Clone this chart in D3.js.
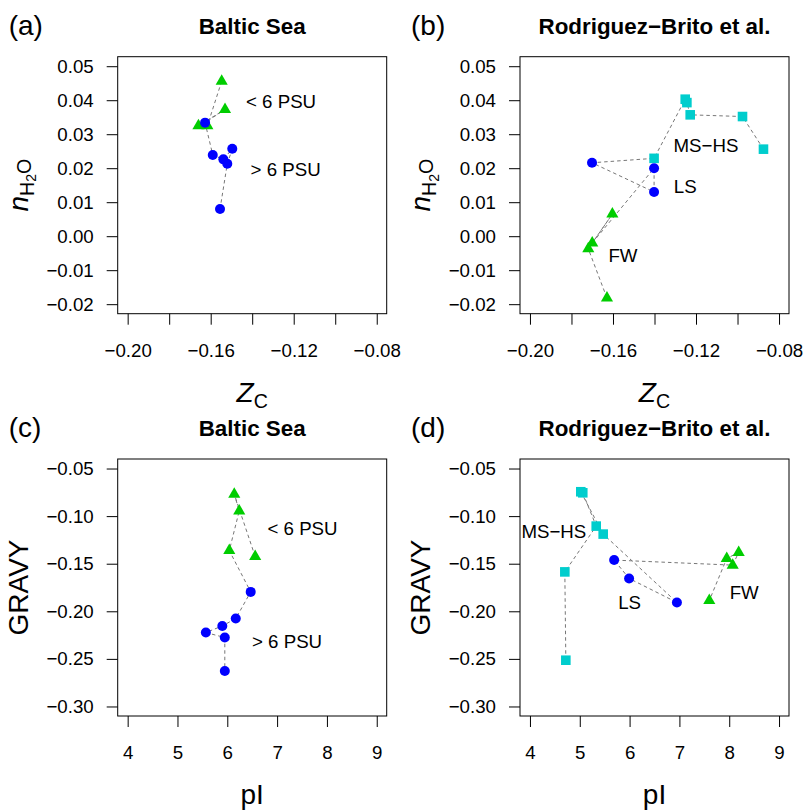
<!DOCTYPE html>
<html><head><meta charset="utf-8">
<script src="https://cdn.jsdelivr.net/npm/d3@7"></script>
<style>
body{margin:0;background:#fff}
svg{display:block}
text{font-family:"Liberation Sans",Arial,Helvetica,sans-serif;fill:#000}
</style>
</head><body>
<svg id="chart" width="803" height="812"></svg>
<script>
// ---------- DATA ----------
// Baltic Sea samples (in plotting / connecting order)
const balticGroup = ["lo","lo","lo","lo","hi","hi","hi","hi","hi","hi"];
const balticZC    = [-0.1547,-0.1616,-0.1659,-0.1531,-0.1627,-0.1590,-0.1539,-0.1496,-0.1520,-0.1555];
const balticNH2O  = [0.0456,0.0325,0.0325,0.0373,0.0334,0.0239,0.0226,0.0257,0.0213,0.0080];
const balticPI    = [6.56,6.14,6.24,6.04,6.47,6.17,5.90,5.57,5.95,5.95];
const balticGRAVY = [-0.1425,-0.0770,-0.0945,-0.1362,-0.1796,-0.2076,-0.2154,-0.2223,-0.2276,-0.2627];

// Rodriguez-Brito et al. samples (in plotting / connecting order)
const rbGroup = ["HS","HS","HS","HS","HS","HS","LS","LS","LS","FW","FW","FW","FW"];
const rbZC    = [-0.0875,-0.0976,-0.1228,-0.1244,-0.1252,-0.1402,-0.1701,-0.1402,-0.1402,-0.1700,-0.1603,-0.1719,-0.1629];
const rbNH2O  = [0.0256,0.0352,0.0357,0.0393,0.0403,0.0229,0.0216,0.0130,0.0200,-0.0020,0.0065,-0.0037,-0.0182];
const rbPI    = [4.72,4.70,5.33,5.06,5.02,5.47,6.95,5.99,5.69,8.07,8.19,7.95,7.60];
const rbGRAVY = [-0.2514,-0.1586,-0.1105,-0.0755,-0.0744,-0.1189,-0.1907,-0.1655,-0.1462,-0.1515,-0.1381,-0.1445,-0.1887];

// Axis limits and tick values
const zcLim = [-0.20,-0.08];
const zcTicks = [-0.20,-0.18,-0.16,-0.14,-0.12,-0.10,-0.08];
const zcLabeled = [-0.20,-0.16,-0.12,-0.08];
const nh2oLim = [-0.02,0.05];
const nh2oTicks = [-0.02,-0.01,0.00,0.01,0.02,0.03,0.04,0.05];
const piLim = [4,9];
const piTicks = [4,5,6,7,8,9];
const gravyLim = [-0.30,-0.05];
const gravyTicks = [-0.30,-0.25,-0.20,-0.15,-0.10,-0.05];

// Panel titles, letters and text annotations (data coordinates)
const panelLetters = ["(a)","(b)","(c)","(d)"];
const panelTitles = ["Baltic Sea","Rodriguez\u2212Brito et al.","Baltic Sea","Rodriguez\u2212Brito et al."];
const annA = [{t:"< 6 PSU",x:-0.1261,y:0.0396},{t:"> 6 PSU",x:-0.1239,y:0.0197}];
const annB = [{t:"MS\u2212HS",x:-0.1152,y:0.0267},{t:"LS",x:-0.1252,y:0.0146},{t:"FW",x:-0.1552,y:-0.0055}];
const annC = [{t:"< 6 PSU",x:7.51,y:-0.1129},{t:"> 6 PSU",x:7.20,y:-0.2318}];
const annD = [{t:"MS\u2212HS",x:4.48,y:-0.116},{t:"LS",x:6.0,y:-0.190},{t:"FW",x:8.3,y:-0.180}];

// ---------- STYLE / LAYOUT ----------
const COLORS = {hi:"#0000FF", lo:"#00CD00", HS:"#00CDCD", LS:"#0000FF", FW:"#00CD00"};
const SHAPES = {hi:"circle", lo:"triangle", HS:"square", LS:"circle", FW:"triangle"};
const PW = 269, PH = 257;
const panelsPos = [{x:117.7,y:56.7},{x:520,y:56.7},{x:117.7,y:459},{x:520,y:459}];
const fsTick = 18.7, fsAnn = 18.7, fsTitle = 22.4, fsLab = 28, fsLetter = 28;

const svg = d3.select("#chart");
const expand = lim => { const d=(lim[1]-lim[0])*0.04; return [lim[0]-d, lim[1]+d]; };

function symbolPath(shape){
  if(shape==="circle") return d3.symbol(d3.symbolCircle, Math.PI*5.0*5.0)();
  if(shape==="square") return d3.symbol(d3.symbolSquare, 9.6*9.6)();
  const r = 7.0; return d3.symbol(d3.symbolTriangle, 3*Math.sqrt(3)/4*r*r)();
}

function panel(i, xs, ys, groups, xLim, yLim, xTicks, xLabeled, yTicks, fmtX, fmtY, xLab, yLab, ann){
  const p = panelsPos[i];
  const g = svg.append("g").attr("transform",`translate(${p.x},${p.y})`);
  const x = d3.scaleLinear().domain(expand(xLim)).range([0,PW]);
  const y = d3.scaleLinear().domain(expand(yLim)).range([PH,0]);

  // axes
  const ax = g.append("g").attr("transform",`translate(0,${PH})`)
    .call(d3.axisBottom(x).tickValues(xTicks).tickSize(11).tickPadding(19)
      .tickFormat(v => xLabeled.some(l=>Math.abs(l-v)<1e-9) ? fmtX(v) : ""));
  const ay = g.append("g")
    .call(d3.axisLeft(y).tickValues(yTicks).tickSize(11).tickPadding(13).tickFormat(fmtY));
  [ax,ay].forEach(a=>{
    a.select(".domain").remove();
    a.selectAll(".tick line").attr("stroke","#000");
    a.selectAll("text").attr("font-size",fsTick).attr("font-family",null).attr("fill","#000");
  });

  // box
  g.append("rect").attr("x",0).attr("y",0).attr("width",PW).attr("height",PH)
    .attr("fill","none").attr("stroke","#000").attr("stroke-width",1);

  // connecting dashed line
  const idx = d3.range(xs.length);
  g.append("path")
    .attr("d", d3.line().x(k=>x(xs[k])).y(k=>y(ys[k]))(idx))
    .attr("fill","none").attr("stroke","#777").attr("stroke-width",1)
    .attr("stroke-dasharray","3.5,3");

  // points
  g.selectAll("path.pt").data(idx).join("path").attr("class","pt")
    .attr("d",k=>symbolPath(SHAPES[groups[k]]))
    .attr("transform",k=>`translate(${x(xs[k])},${y(ys[k])})`)
    .attr("fill",k=>COLORS[groups[k]]);

  // annotations
  g.selectAll("text.ann").data(ann).join("text").attr("class","ann")
    .attr("x",d=>x(d.x)).attr("y",d=>y(d.y)).attr("dy","0.36em")
    .attr("text-anchor","middle").attr("font-size",fsAnn).text(d=>d.t);

  // title and letter
  svg.append("text").attr("x",p.x+PW/2).attr("y",p.y-23).attr("text-anchor","middle")
    .attr("font-size",fsTitle).attr("font-weight","bold").text(panelTitles[i]);
  svg.append("text").attr("x",p.x-109).attr("y",p.y-22)
    .attr("font-size",fsLetter).text(panelLetters[i]);

  // x label
  xLab(svg.append("text").attr("x",p.x+PW/2).attr("y",p.y+PH+88).attr("text-anchor","middle").attr("font-size",fsLab));
  // y label
  yLab(svg.append("text").attr("transform",`translate(${p.x-90},${p.y+PH/2}) rotate(-90)`).attr("text-anchor","middle").attr("font-size",fsLab));
}

const f2 = d3.format(".2f");
const f0 = d3.format("d");
const labZC = t => { t.append("tspan").attr("font-style","italic").text("Z");
  t.append("tspan").attr("font-size",fsLab*0.7).attr("dy","0.3em").text("C"); };
const labN = t => { t.attr("text-anchor","middle");
  t.append("tspan").attr("font-style","italic").text("n");
  t.append("tspan").attr("font-size",fsLab*0.7).attr("dy","0.3em").text("H");
  t.append("tspan").attr("font-size",fsLab*0.5).attr("dy","0.2em").text("2");
  t.append("tspan").attr("font-size",fsLab*0.7).attr("dy","-0.28em").text("O"); };
const labPI = t => t.text("pI");
const labGR = t => t.text("GRAVY");

panel(0, balticZC, balticNH2O, balticGroup, zcLim, nh2oLim, zcTicks, zcLabeled, nh2oTicks, f2, f2, labZC, labN, annA);
panel(1, rbZC, rbNH2O, rbGroup, zcLim, nh2oLim, zcTicks, zcLabeled, nh2oTicks, f2, f2, labZC, labN, annB);
panel(2, balticPI, balticGRAVY, balticGroup, piLim, gravyLim, piTicks, piTicks, gravyTicks, f0, f2, labPI, labGR, annC);
panel(3, rbPI, rbGRAVY, rbGroup, piLim, gravyLim, piTicks, piTicks, gravyTicks, f0, f2, labPI, labGR, annD);
</script>
</body></html>
